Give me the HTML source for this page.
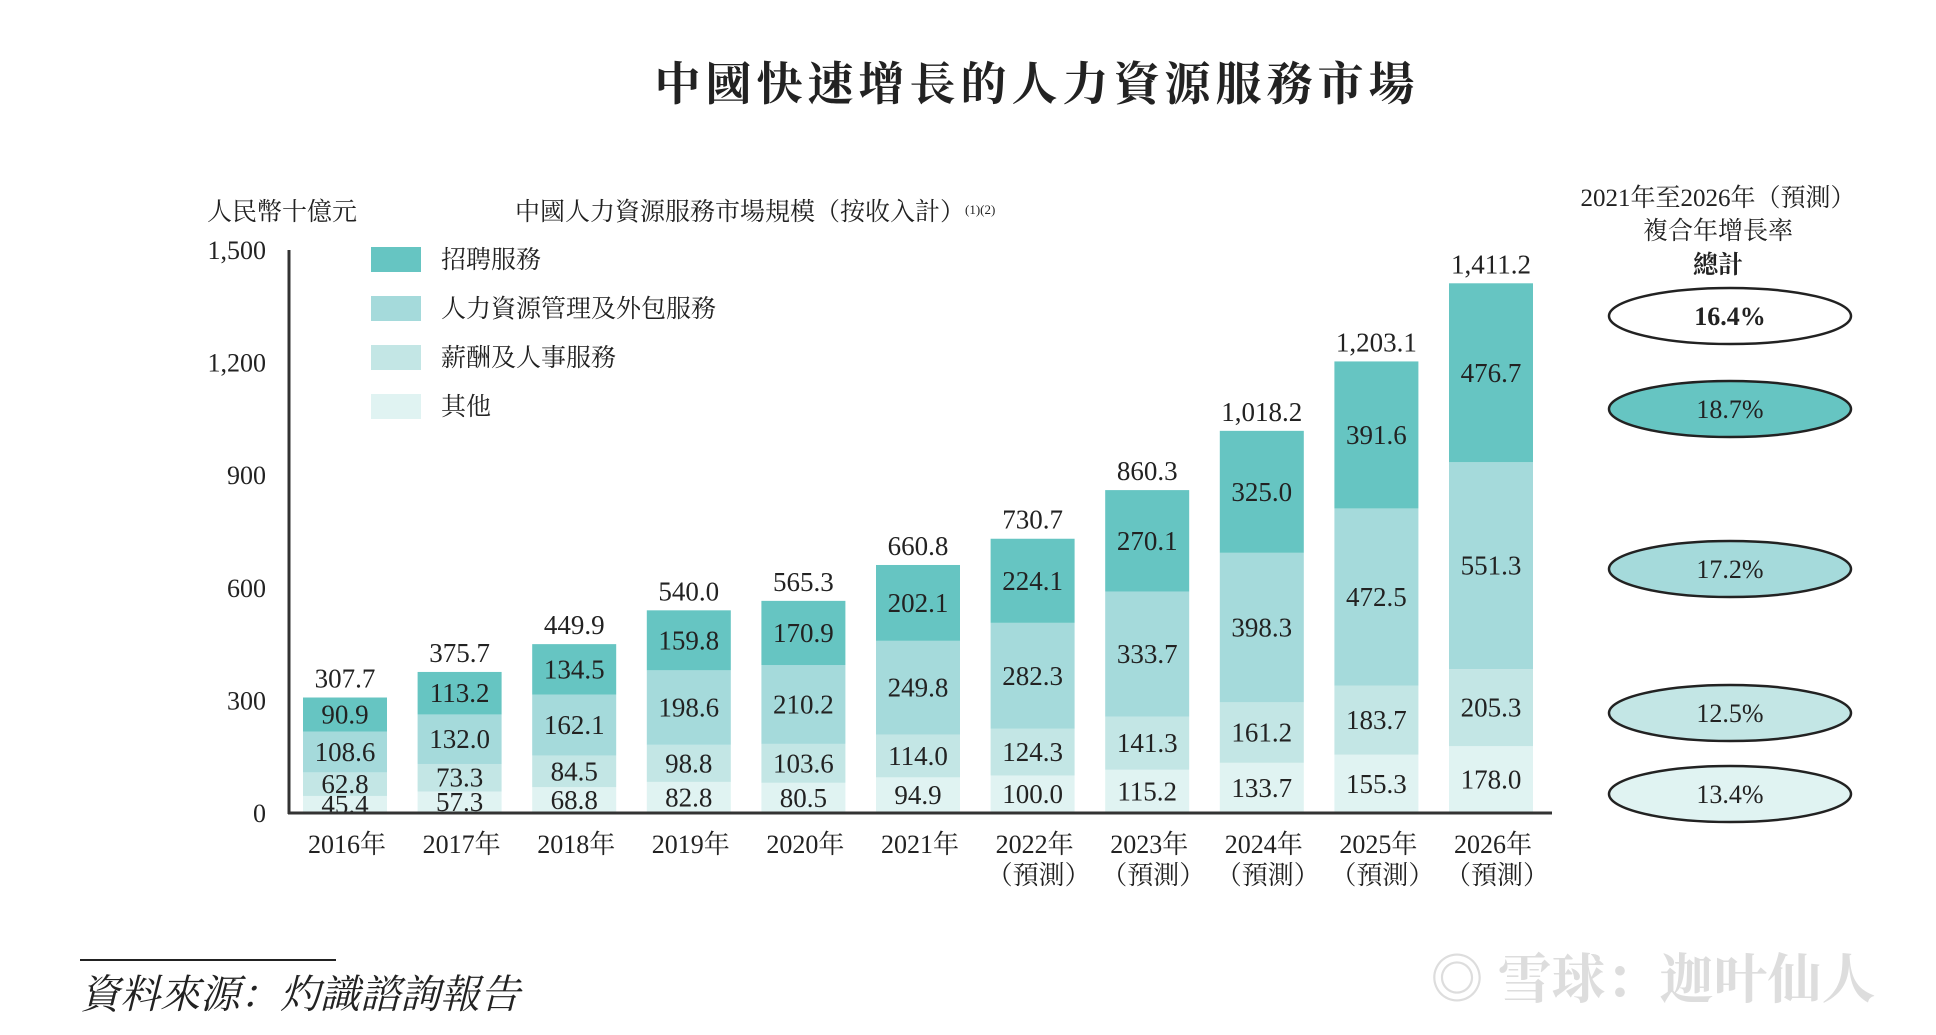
<!DOCTYPE html>
<html><head><meta charset="utf-8"><style>
body{margin:0;background:#fff;}
svg text{font-family:"Liberation Serif","Noto Serif CJK SC",serif;fill:#222;}
</style></head><body>
<svg id="c" width="1936" height="1030" xmlns="http://www.w3.org/2000/svg">
<text x="1037" y="100" text-anchor="middle" font-size="46" font-weight="bold" letter-spacing="5">中國快速增長的人力資源服務市場</text>
<text x="207" y="220" font-size="25">人民幣十億元</text>
<text x="515" y="220" font-size="25">中國人力資源服務市場規模（按收入計）<tspan font-size="13" dy="-6">(1)(2)</tspan></text>
<text x="1718" y="206" text-anchor="middle" font-size="25">2021年至2026年（預測）</text>
<text x="1718" y="239" text-anchor="middle" font-size="25">複合年增長率</text>
<text x="1718" y="273" text-anchor="middle" font-size="25" font-weight="bold">總計</text>
<g id="plot"></g>
<line x1="80" y1="960" x2="336" y2="960" stroke="#222" stroke-width="2"/>
<text x="80" y="1008" font-size="40" font-style="italic">資料來源：灼識諮詢報告</text>
<text x="1430" y="998" font-size="54" font-weight="bold" style="fill:#ddd">◎ 雪球：迦叶仙人</text>
</svg>
<script>
const years=["2016年","2017年","2018年","2019年","2020年","2021年","2022年","2023年","2024年","2025年","2026年"];
const forecast=[false,false,false,false,false,false,true,true,true,true,true];
const others=[45.4,57.3,68.8,82.8,80.5,94.9,100.0,115.2,133.7,155.3,178.0];
const payroll=[62.8,73.3,84.5,98.8,103.6,114.0,124.3,141.3,161.2,183.7,205.3];
const hrOutsourcing=[108.6,132.0,162.1,198.6,210.2,249.8,282.3,333.7,398.3,472.5,551.3];
const recruitment=[90.9,113.2,134.5,159.8,170.9,202.1,224.1,270.1,325.0,391.6,476.7];
const totals=[307.7,375.7,449.9,540.0,565.3,660.8,730.7,860.3,1018.2,1203.1,1411.2];
const yTicks=[0,300,600,900,1200,1500];
const seriesNames=["招聘服務","人力資源管理及外包服務","薪酬及人事服務","其他"];
const cagrLabels=["16.4%","18.7%","17.2%","12.5%","13.4%"];
const cagrY=[316,409,569,713,794];
const colors=["#66c5c2","#a5dadb","#c3e6e5","#e0f3f2"];
const NS="http://www.w3.org/2000/svg";
const g=document.getElementById('plot');
const y0=813,yTop=250,maxV=1500;
const y=v=>y0-(v/maxV)*(y0-yTop);
const x=i=>345+i*114.6;
const bw=84;
function mk(t,a,txt){const e=document.createElementNS(NS,t);for(const k in a)e.setAttribute(k,a[k]);if(txt!=null)e.textContent=txt;g.appendChild(e);return e;}
yTicks.forEach(v=>{const t=mk('text',{x:266,y:y(v)+9,'text-anchor':'end','font-size':26},v.toLocaleString('en-US'));

});
const stack=[others,payroll,hrOutsourcing,recruitment];
const scol=[colors[3],colors[2],colors[1],colors[0]];
years.forEach((yr,i)=>{let base=0;
stack.forEach((s,k)=>{const r=mk('rect',{x:x(i)-bw/2,y:y(base+s[i]),width:bw,height:y(base)-y(base+s[i]),fill:scol[k]});


const t=mk('text',{x:x(i),y:(y(base)+y(base+s[i]))/2+9,'text-anchor':'middle','font-size':27},s[i].toFixed(1));


base+=s[i];});
const tt=mk('text',{x:x(i),y:y(totals[i])-10,'text-anchor':'middle','font-size':27},totals[i].toLocaleString('en-US',{minimumFractionDigits:1}));


const xl=mk('text',{x:x(i)+2,y:853,'text-anchor':'middle','font-size':26},yr);


if(forecast[i]){const f=mk('text',{x:x(i)+6,y:884,'text-anchor':'middle','font-size':26},'（預測）');

}
});
const ax=mk('line',{x1:289,y1:250,x2:289,y2:814,stroke:'#333','stroke-width':3});


const bx=mk('line',{x1:288,y1:813,x2:1552,y2:813,stroke:'#333','stroke-width':3});


seriesNames.forEach((n,k)=>{const yy=247+k*49;
const r=mk('rect',{x:371,y:yy,width:50,height:25,fill:colors[k]});


const t=mk('text',{x:441,y:yy+21,'font-size':25},n);

});
const ecol=["#fff",colors[0],colors[1],colors[2],colors[3]];
cagrLabels.forEach((c,k)=>{const e=mk('ellipse',{cx:1730,cy:cagrY[k],rx:121,ry:28,fill:ecol[k],stroke:'#222','stroke-width':2.5});


const t=mk('text',{x:1730,y:cagrY[k]+9,'text-anchor':'middle','font-size':26,'font-weight':k==0?'bold':'normal'},c);

});
</script>
</body></html>
